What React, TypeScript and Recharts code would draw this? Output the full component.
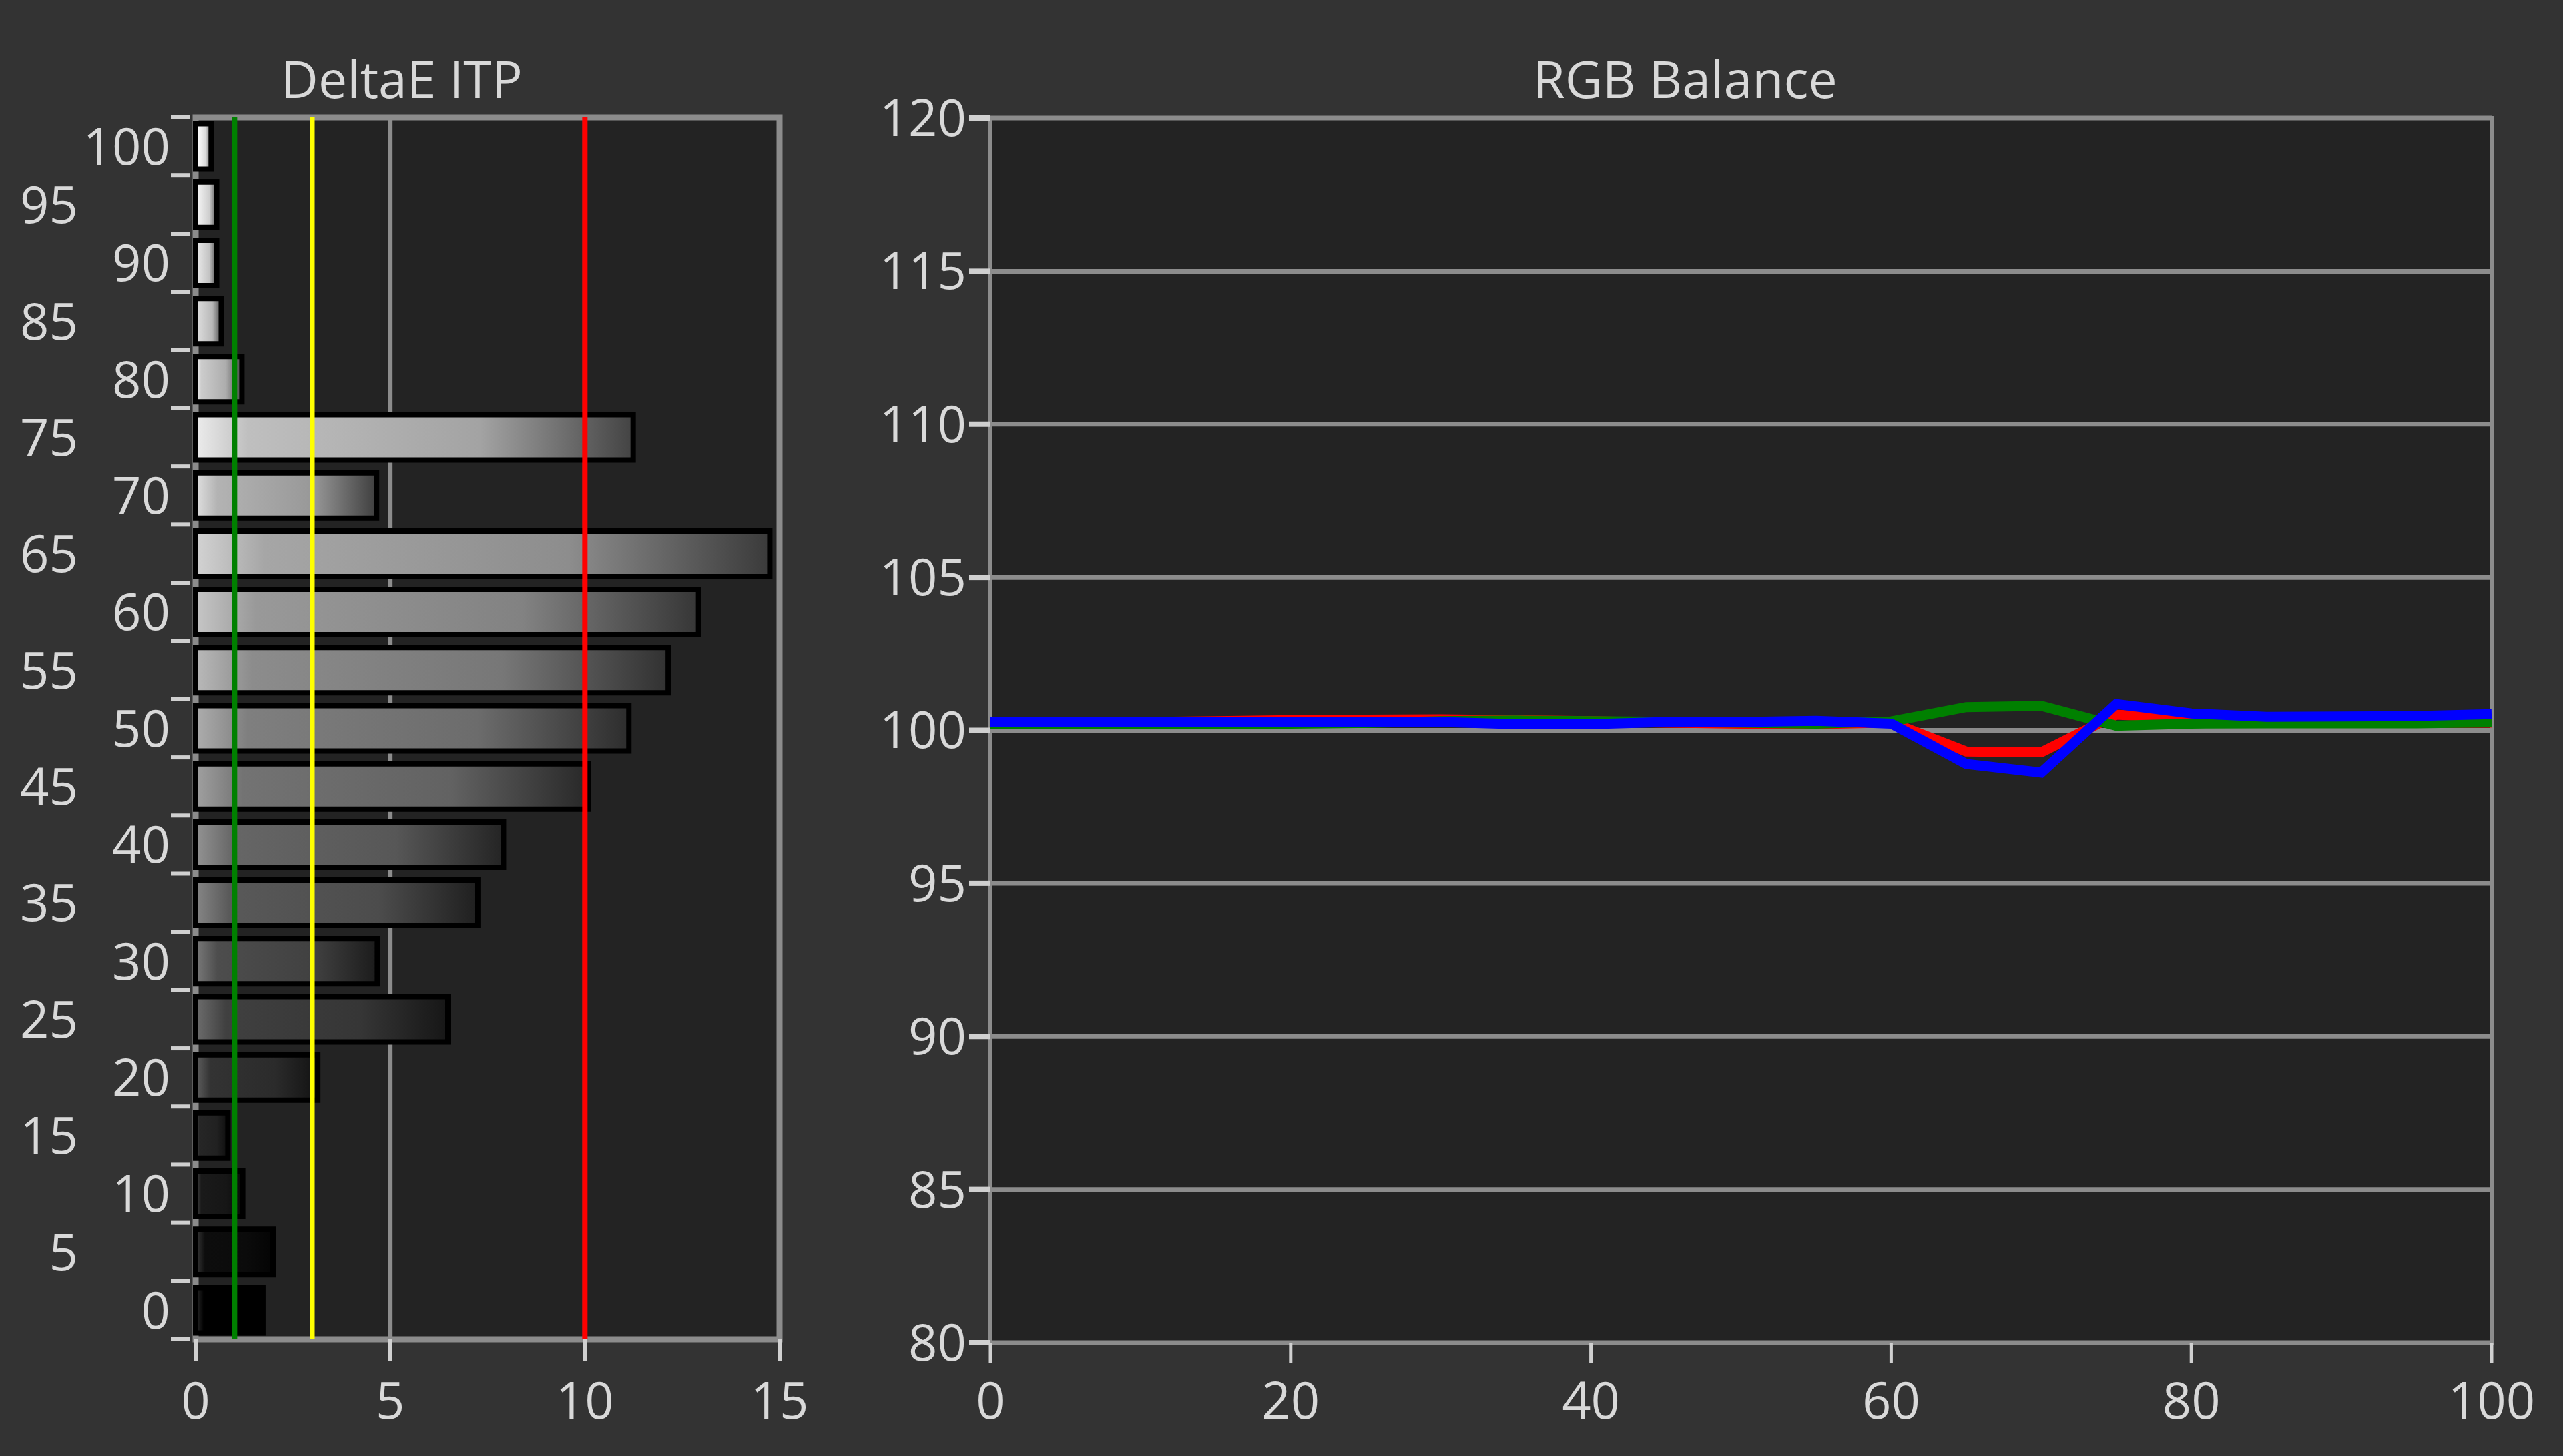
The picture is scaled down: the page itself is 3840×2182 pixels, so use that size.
import {
  BarChart,
  Bar,
  Cell,
  LineChart,
  Line,
  XAxis,
  YAxis,
  CartesianGrid,
  ReferenceLine,
  ReferenceArea,
} from 'recharts';

// DeltaE ITP per grey level
const levels = [0, 5, 10, 15, 20, 25, 30, 35, 40, 45, 50, 55, 60, 65, 70, 75, 80, 85, 90, 95, 100];
const deltaE = [1.73, 1.99, 1.21, 0.83, 3.14, 6.48, 4.67, 7.25, 7.91, 10.08, 11.13, 12.14, 12.92, 14.75, 4.65, 11.24, 1.19, 0.66, 0.54, 0.54, 0.4];
const deltaTicks = [0, 5, 10, 15];

// RGB balance
const rgbX = [0, 5, 10, 15, 20, 25, 30, 35, 40, 45, 50, 55, 60, 65, 70, 75, 80, 85, 90, 95, 100];
const redVals = [100.25, 100.25, 100.27, 100.3, 100.33, 100.35, 100.36, 100.33, 100.3, 100.25, 100.22, 100.2, 100.26, 99.31, 99.28, 100.51, 100.4, 100.25, 100.25, 100.25, 100.25];
const greenVals = [100.2, 100.2, 100.2, 100.2, 100.22, 100.24, 100.3, 100.32, 100.3, 100.28, 100.25, 100.22, 100.29, 100.76, 100.8, 100.15, 100.22, 100.23, 100.23, 100.23, 100.26];
const blueVals = [100.27, 100.27, 100.27, 100.27, 100.27, 100.27, 100.27, 100.2, 100.2, 100.27, 100.27, 100.31, 100.22, 98.9, 98.62, 100.86, 100.55, 100.44, 100.45, 100.47, 100.53];
const rgbXTicks = [0, 20, 40, 60, 80, 100];
const rgbYTicks = [80, 85, 90, 95, 100, 105, 110, 115, 120];

const deltaData = levels.map((level, i) => ({ level, de: deltaE[i] }));
const rgbData = rgbX.map((x, i) => ({ x, r: redVals[i], g: greenVals[i], b: blueVals[i] }));

const FONT = "'Open Sans', sans-serif";
const TEXT = '#d9d9d9';
const FRAME = '#8c8c8c';
const TICK = '#d0d0d0';

const LEFT_TOP = 176;
const LEFT_BOTTOM = 2007;
const BAND = (LEFT_BOTTOM - LEFT_TOP) / levels.length;

const grey = (v: number) => {
  const c = Math.max(0, Math.min(255, Math.round(v)));
  return `rgb(${c},${c},${c})`;
};

const LevelTick = (props: any) => {
  const { x, y, payload } = props;
  const level = payload.value;
  const labelX = level % 10 === 0 ? x - 38 : x - 176;
  return (
    <g>
      <line x1={x - 37} x2={x - 8} y1={y - BAND / 2} y2={y - BAND / 2} stroke={TICK} strokeWidth={6} />
      {level === 0 && (
        <line x1={x - 37} x2={x - 8} y1={y + BAND / 2} y2={y + BAND / 2} stroke={TICK} strokeWidth={6} />
      )}
      <text x={labelX} y={y} dy="0.36em" textAnchor="end" fill={TEXT} fontSize={76} fontFamily={FONT}>
        {level}
      </text>
    </g>
  );
};

const Title = ({ text, center }: { text: string; center: number }) => (
  <div
    style={{
      position: 'absolute',
      left: center - 500,
      width: 1000,
      top: 72,
      textAlign: 'center',
      color: TEXT,
      fontSize: 77,
      lineHeight: '92px',
      fontFamily: FONT,
    }}
  >
    {text}
  </div>
);

const App = () => {
  return (
    <div
      style={{
        position: 'absolute',
        left: 0,
        top: 0,
        width: 3840,
        height: 2182,
        background: '#333333',
        overflow: 'hidden',
        fontFamily: FONT,
      }}
    >
      <Title text="DeltaE ITP" center={602} />
      <Title text="RGB Balance" center={2525} />

      <div style={{ position: 'absolute', left: 0, top: 0 }}>
        <BarChart
          width={1250}
          height={2182}
          data={deltaData}
          layout="vertical"
          margin={{ top: LEFT_TOP, right: 82, bottom: 0, left: 0 }}
          barCategoryGap="11%"
        >
          <defs>
            {levels.map((level) => {
              const base = 2.55 * level;
              return (
                <linearGradient key={level} id={`deg${level}`} x1="0" y1="0" x2="1" y2="0">
                  <stop offset="0%" stopColor={grey(base + 45)} />
                  <stop offset="12%" stopColor={grey(base)} />
                  <stop offset="65%" stopColor={grey(base * 0.85)} />
                  <stop offset="100%" stopColor={grey(base * 0.35)} />
                </linearGradient>
              );
            })}
          </defs>
          <CartesianGrid fill="#232323" horizontal={false} stroke={FRAME} strokeWidth={7} />
          <XAxis
            type="number"
            domain={[0, 15]}
            ticks={deltaTicks}
            height={2182 - LEFT_BOTTOM}
            axisLine={false}
            tickSize={32}
            tickMargin={33}
            tickLine={{ stroke: TICK, strokeWidth: 6 }}
            tick={{ fill: TEXT, fontSize: 76, fontFamily: FONT }}
          />
          <YAxis
            type="category"
            dataKey="level"
            reversed
            width={293}
            interval={0}
            axisLine={false}
            tickLine={false}
            tickSize={0}
            tickMargin={0}
            tick={(p: any) => <LevelTick {...p} />}
          />
          <Bar dataKey="de" stroke="#000000" strokeWidth={8} isAnimationActive={false}>
            {deltaData.map((d) => (
              <Cell key={d.level} fill={`url(#deg${d.level})`} stroke="#000000" strokeWidth={8} />
            ))}
          </Bar>
          <ReferenceLine x={1} stroke="#008000" strokeWidth={8} />
          <ReferenceLine x={3} stroke="#ffff00" strokeWidth={7} />
          <ReferenceLine x={10} stroke="#ff0000" strokeWidth={8} />
          <ReferenceArea x1={0} x2={15} fill="none" stroke={FRAME} strokeWidth={9} />
        </BarChart>
      </div>

      <div style={{ position: 'absolute', left: 1250, top: 0 }}>
        <LineChart
          width={2590}
          height={2182}
          data={rgbData}
          margin={{ top: 177, right: 107, bottom: 0, left: 0 }}
        >
          <CartesianGrid fill="#232323" vertical={false} stroke={FRAME} strokeWidth={7} />
          <XAxis
            type="number"
            dataKey="x"
            domain={[0, 100]}
            ticks={rgbXTicks}
            height={170}
            axisLine={false}
            tickSize={30}
            tickMargin={30}
            tickLine={{ stroke: TICK, strokeWidth: 5 }}
            tick={{ fill: TEXT, fontSize: 76, fontFamily: FONT }}
          />
          <YAxis
            type="number"
            domain={[80, 120]}
            ticks={rgbYTicks}
            width={234}
            axisLine={false}
            tickSize={32}
            tickMargin={4}
            tickLine={{ stroke: TICK, strokeWidth: 8 }}
            tick={{ fill: TEXT, fontSize: 76, fontFamily: FONT }}
          />
          <Line type="linear" dataKey="r" stroke="#ff0000" strokeWidth={15} dot={false} isAnimationActive={false} />
          <Line type="linear" dataKey="g" stroke="#008000" strokeWidth={15} dot={false} isAnimationActive={false} />
          <Line type="linear" dataKey="b" stroke="#0000ff" strokeWidth={15} dot={false} isAnimationActive={false} />
          <ReferenceArea x1={0} x2={100} y1={80} y2={120} fill="none" stroke={FRAME} strokeWidth={6} />
        </LineChart>
      </div>
    </div>
  );
};

export default App;
